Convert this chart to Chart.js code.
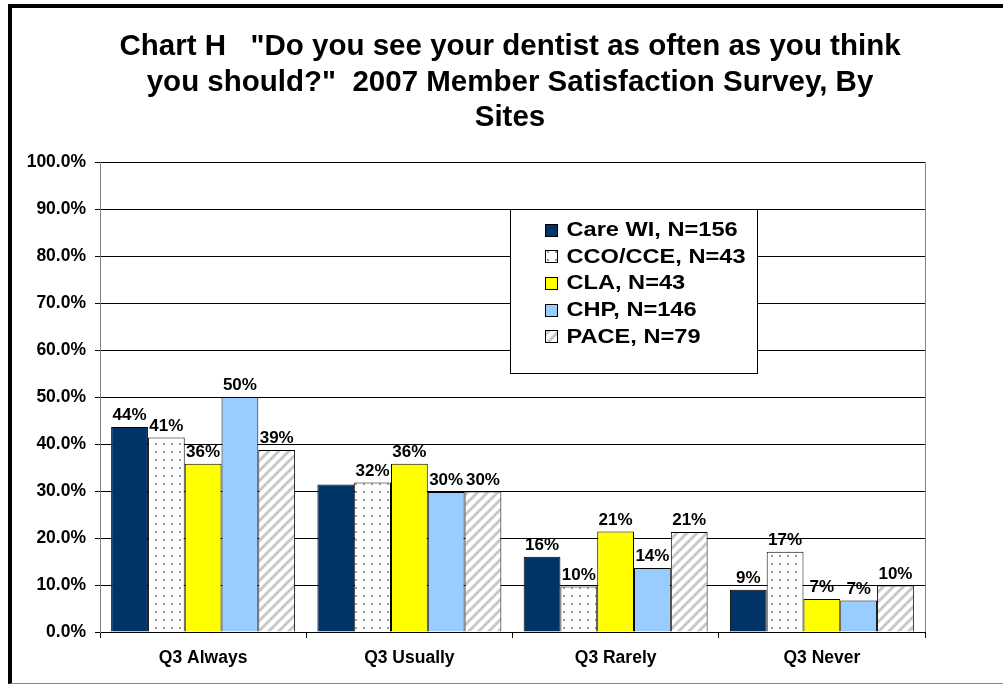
<!DOCTYPE html>
<html>
<head>
<meta charset="utf-8">
<script src="https://cdn.jsdelivr.net/npm/chart.js@4.4.1/dist/chart.umd.min.js"></script>
<style>
  html, body { margin: 0; padding: 0; background: #fff; }
  #wrap { position: absolute; left: 0; top: 0; width: 1003px; height: 685px; }
  #frame { position: absolute; left: 8px; top: 4px; width: 1000px; height: 675px;
    border-left: 4px solid #000; border-top: 4px solid #000; border-bottom: 1px solid #888;
    pointer-events: none; }
</style>
</head>
<body>
<div id="wrap">
  <canvas id="chart" width="1003" height="685"></canvas>
  <div id="frame"></div>
</div>
<script>
// data
var categories = ['Q3 Always', 'Q3 Usually', 'Q3 Rarely', 'Q3 Never'];
var careWI = [43.6, 31.4, 16.0, 9.0];
var ccoCce = [41.4, 31.8, 9.7, 17.1];
var cla = [35.8, 35.8, 21.4, 7.0];
var chp = [50.0, 29.8, 13.6, 6.7];
var pace = [38.7, 29.9, 21.3, 9.9];
var seriesNames = ['Care WI, N=156', 'CCO/CCE, N=43', 'CLA, N=43', 'CHP, N=146', 'PACE, N=79'];
var yTicks = [0, 10, 20, 30, 40, 50, 60, 70, 80, 90, 100];
// label of Care WI / Q3 Usually is not shown in the original
var hiddenLabels = [[0, 1]];

var titleLines = [
  'Chart H   "Do you see your dentist as often as you think',
  'you should?"  2007 Member Satisfaction Survey, By',
  'Sites'
];

function dotPattern() {
  var c = document.createElement('canvas');
  c.width = 8; c.height = 8;
  var g = c.getContext('2d');
  g.fillStyle = '#fff';
  g.fillRect(0, 0, 8, 8);
  g.fillStyle = '#999';
  g.fillRect(3, 3, 2, 2);
  return g.createPattern(c, 'repeat');
}

function stripePattern() {
  var c = document.createElement('canvas');
  c.width = 10; c.height = 10;
  var g = c.getContext('2d');
  g.fillStyle = '#fff';
  g.fillRect(0, 0, 10, 10);
  g.strokeStyle = '#c8c8c8';
  g.lineWidth = 3;
  g.beginPath();
  g.moveTo(-2, 12); g.lineTo(12, -2);
  g.moveTo(-2, 2); g.lineTo(2, -2);
  g.moveTo(8, 12); g.lineTo(12, 8);
  g.stroke();
  return g.createPattern(c, 'repeat');
}

var fills = ['#003366', dotPattern(), '#ffff00', '#99ccff', stripePattern()];
var values = [careWI, ccoCce, cla, chp, pace];

var datasets = values.map(function (v, i) {
  return {
    label: seriesNames[i],
    data: v,
    backgroundColor: fills[i],
    borderColor: '#000',
    borderWidth: 1,
    barPercentage: 1,
    categoryPercentage: 0.892
  };
});

var FONT = '"Liberation Sans", Arial, sans-serif';

// title drawn by hand so it can be centred on the whole frame
var titleText = {
  id: 'titleText',
  afterDraw: function (chart) {
    var ctx = chart.ctx;
    ctx.save();
    ctx.font = 'bold 29.5px ' + FONT;
    ctx.fillStyle = '#000';
    ctx.textAlign = 'center';
    ctx.textBaseline = 'alphabetic';
    titleLines.forEach(function (t, i) {
      ctx.fillText(t, 510, 55 + i * 35.7);
    });
    ctx.restore();
  }
};

var plotFrame = {
  id: 'plotFrame',
  beforeDatasetsDraw: function (chart) {
    var a = chart.chartArea, ctx = chart.ctx;
    ctx.save();
    ctx.strokeStyle = '#808080';
    ctx.lineWidth = 1;
    ctx.beginPath();
    ctx.moveTo(a.right + 0.5, a.top);
    ctx.lineTo(a.right + 0.5, a.bottom);
    ctx.stroke();
    ctx.restore();
  }
};

var barLabels = {
  id: 'barLabels',
  afterDatasetsDraw: function (chart) {
    var ctx = chart.ctx;
    ctx.save();
    ctx.font = 'bold 17px ' + FONT;
    ctx.fillStyle = '#000';
    ctx.textAlign = 'center';
    ctx.textBaseline = 'bottom';
    chart.data.datasets.forEach(function (ds, di) {
      chart.getDatasetMeta(di).data.forEach(function (bar, i) {
        var skip = hiddenLabels.some(function (h) { return h[0] === di && h[1] === i; });
        if (skip) return;
        ctx.fillText(Math.round(ds.data[i]) + '%', bar.x, bar.y - 3);
      });
    });
    ctx.restore();
  }
};

var boxLegend = {
  id: 'boxLegend',
  afterDraw: function (chart) {
    var a = chart.chartArea, ctx = chart.ctx;
    var left = Math.round(a.left + 0.497 * (a.right - a.left)) + 0.5;
    var top = Math.round(a.top + 0.1 * (a.bottom - a.top)) + 0.5;
    var w = 247, h = 164;
    ctx.save();
    ctx.fillStyle = '#fff';
    ctx.fillRect(left, top, w, h);
    ctx.strokeStyle = '#000';
    ctx.lineWidth = 1;
    ctx.strokeRect(left, top, w, h);
    ctx.textBaseline = 'middle';
    chart.data.datasets.forEach(function (ds, i) {
      var y = top + 20 + i * 26.7;
      ctx.fillStyle = ds.backgroundColor;
      ctx.fillRect(left + 35, Math.round(y - 6), 12, 12);
      ctx.strokeStyle = '#000';
      ctx.strokeRect(left + 35, Math.round(y - 6) + 0.5, 12, 12);
      // the original legend text is a bit wider than tall, so stretch it
      ctx.save();
      ctx.translate(left + 56, y + 1);
      ctx.scale(1.18, 1);
      ctx.font = 'bold 20px ' + FONT;
      ctx.fillStyle = '#000';
      ctx.fillText(ds.label, 0, 0);
      ctx.restore();
    });
    ctx.restore();
  }
};

new Chart(document.getElementById('chart'), {
  type: 'bar',
  data: { labels: categories, datasets: datasets },
  plugins: [plotFrame, barLabels, boxLegend, titleText],
  options: {
    responsive: false,
    animation: false,
    layout: { padding: { left: 12, right: 78, top: 162, bottom: 13 } },
    plugins: {
      legend: { display: false },
      tooltip: { enabled: false },
      title: { display: false }
    },
    scales: {
      x: {
        grid: { display: true, drawOnChartArea: false, offset: true, color: '#000', tickLength: 6 },
        border: { color: '#000' },
        ticks: { color: '#000', padding: 10, font: { family: FONT, size: 17.5, weight: 'bold' } },
        afterFit: function (s) { s.height = 40; }
      },
      y: {
        min: 0,
        max: 100,
        afterBuildTicks: function (s) { s.ticks = yTicks.map(function (v) { return { value: v }; }); },
        grid: { color: '#000', tickLength: 5 },
        border: { color: '#808080' },
        ticks: {
          color: '#000',
          padding: 9,
          font: { family: FONT, size: 17.5, weight: 'bold' },
          callback: function (v) { return v.toFixed(1) + '%'; }
        },
        afterFit: function (s) { s.width = 88; }
      }
    }
  }
});
</script>
</body>
</html>
